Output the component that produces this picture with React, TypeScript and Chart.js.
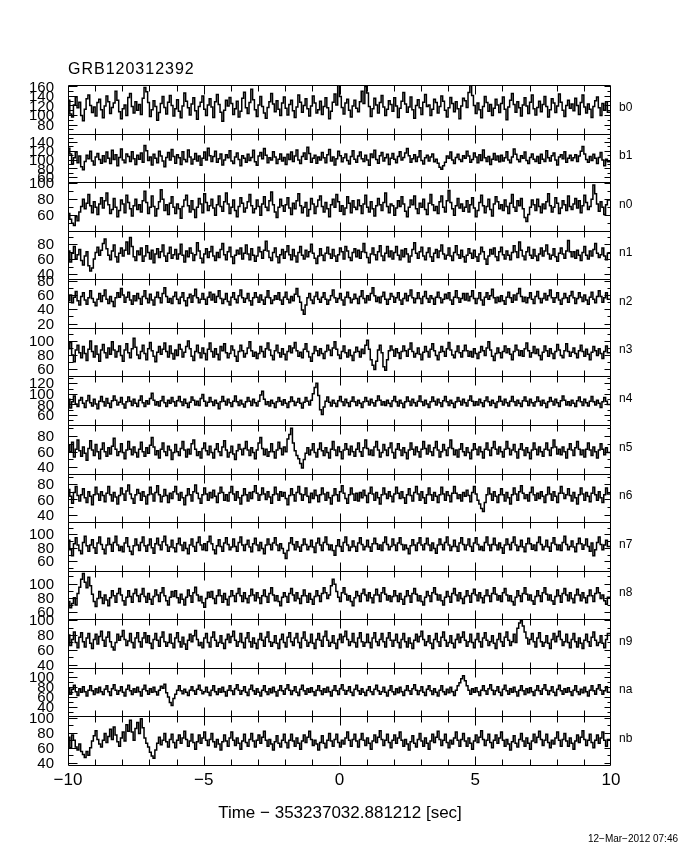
import { useEffect, useRef } from "react";
import { Chart, registerables } from "chart.js";

Chart.register(...registerables);

// ---------- data ----------
const title = "GRB120312392";
const xTitle = "Time \u2212 353237032.881212 [sec]";
const dateStamp = "12\u2212Mar\u22122012 07:46";
const detectors = ["b0", "b1", "n0", "n1", "n2", "n3", "n4", "n5", "n6", "n7", "n8", "n9", "na", "nb"];
const xMin = -10;
const xMax = 10;
const yMin = [61, 49, 40.5, 33, 14, 49, 41, 32, 30, 46, 50, 36, 21, 37];
const yMax = [163, 159, 101.5, 98, 82, 119, 133, 94, 94, 118, 118, 101, 119, 102];
const yStep = [20, 20, 20, 20, 20, 20, 20, 20, 20, 20, 20, 20, 20, 20];

const b0Rates = [
  109,131,102,96,121,138,115,127,99,88,112,134,142,120,105,117,98,126,133,111,
  94,119,140,128,103,116,125,150,131,107,92,113,121,99,137,145,118,104,128,110,
  122,101,135,158,149,126,97,111,130,118,89,105,124,139,116,102,127,141,120,98,
  113,132,108,94,119,146,129,115,100,123,136,109,91,118,127,140,112,99,121,134,
  117,95,128,143,122,106,87,110,131,119,137,124,101,113,129,96,108,135,148,115,
  103,126,154,132,111,97,121,139,118,104,93,116,128,145,123,107,130,112,99,125,
  138,114,100,122,131,109,95,117,142,127,106,120,134,113,98,119,140,125,104,111,
  129,101,118,136,115,92,108,127,144,121,163,139,116,102,125,133,110,96,119,131,
  114,107,128,150,124,160,146,118,97,113,135,121,104,126,141,117,99,112,130,122,
  108,136,119,95,114,129,147,123,106,117,138,111,93,120,132,115,101,127,143,118,
  121,99,112,133,126,104,118,140,129,110,96,115,137,124,107,128,113,92,119,135,
  130,116,147,162,141,120,103,125,111,94,118,139,126,108,122,99,114,133,121,105,
  124,138,112,90,117,131,145,122,106,128,115,98,121,136,119,103,127,142,113,100,
  116,129,107,122,139,118,96,111,134,125,105,119,144,127,110,97,120,131,114,123,
  109,135,120,101,126,142,117,104,123,112,95,118,130,138,115,99,124,110,128,106,
];
const b1Rates = [
  98,126,113,90,104,117,93,108,84,77,96,110,102,119,97,88,106,114,100,92,
  109,95,117,103,91,121,100,111,86,105,124,99,93,113,107,96,118,102,89,110,
  101,115,94,132,120,98,106,88,112,103,93,119,108,97,84,105,116,99,123,107,
  92,111,104,89,118,100,95,122,106,90,101,114,97,108,87,103,117,99,126,109,
  96,107,119,94,102,113,88,99,111,104,120,97,91,106,115,100,86,109,103,94,
  112,98,105,121,95,87,108,116,102,125,110,93,104,99,118,106,91,101,113,97,
  105,89,112,100,117,96,108,122,99,91,107,115,101,128,114,94,103,110,92,106,
  99,116,104,93,111,123,97,106,88,102,119,109,95,104,113,98,90,107,120,101,
  94,108,117,102,96,110,99,87,113,105,121,100,92,109,116,97,104,112,89,103,
  114,101,93,107,118,99,105,115,125,109,94,102,111,96,106,120,98,90,104,110,
  97,106,113,95,101,92,83,78,86,94,108,103,117,99,91,105,112,100,96,109,
  103,119,108,94,100,115,106,93,111,98,122,104,96,107,89,101,114,99,108,95,
  110,97,104,118,99,93,106,124,112,100,95,109,103,117,98,91,105,113,101,96,
  107,92,112,101,96,120,104,97,109,115,99,88,106,111,102,118,94,103,110,98,
  104,111,96,108,119,130,113,100,94,107,98,112,103,91,105,116,99,86,101,95,
];
const n0Rates = [
  76,62,55,50,47,58,53,64,71,80,68,75,86,72,63,77,70,61,74,82,
  69,78,88,73,62,67,81,70,58,66,79,74,63,85,76,68,59,72,80,67,
  73,64,78,90,76,62,70,84,71,59,68,77,92,80,66,73,61,75,83,70,
  62,74,68,56,71,79,85,72,64,78,67,57,70,81,74,63,87,76,66,72,
  80,69,60,73,84,71,65,77,88,74,62,70,79,66,58,71,82,75,64,69,
  77,86,72,63,68,79,71,60,74,83,70,66,78,89,73,64,57,70,80,72,
  65,73,82,69,61,75,68,78,87,72,63,70,76,59,67,81,74,62,71,79,
  84,71,64,76,68,58,73,80,70,86,77,65,72,61,69,83,75,63,78,70,
  67,79,72,62,74,85,70,64,77,68,59,72,81,73,66,76,88,71,63,74,
  72,60,69,78,71,83,74,65,58,70,79,73,84,68,62,75,70,80,67,61,
  75,86,73,66,71,62,77,84,70,64,78,91,76,68,60,72,81,69,74,65,
  70,78,64,73,82,69,58,66,76,85,72,63,71,80,67,59,74,83,77,68,
  73,66,79,71,62,75,86,70,65,78,72,81,68,57,52,61,70,79,73,66,
  80,71,63,74,68,77,87,72,64,70,82,75,62,69,78,73,66,84,71,67,
  74,81,69,78,63,72,85,76,67,71,80,98,87,74,65,77,70,61,73,79,
];
const n1Rates = [
  62,71,56,68,77,60,66,73,58,52,64,70,51,44,48,60,69,76,65,72,
  81,87,74,65,59,71,79,63,56,68,75,64,72,83,67,89,77,63,58,71,
  66,75,57,64,78,69,60,72,55,67,74,62,70,79,64,57,68,76,61,66,
  73,60,67,80,65,56,71,63,75,68,58,66,82,71,61,55,67,74,62,70,
  77,64,58,69,62,73,81,66,59,70,76,63,54,65,72,67,75,60,68,79,
  67,59,74,65,57,64,76,70,61,72,84,71,62,58,69,75,63,55,66,73,
  61,70,78,66,59,73,64,56,69,77,65,60,72,63,70,80,68,61,54,64,
  74,65,58,68,76,67,61,73,64,57,66,75,70,60,77,71,62,58,69,74,
  63,72,61,70,81,69,62,55,67,75,66,59,70,78,64,58,68,77,63,71,
  60,69,77,65,59,72,63,74,67,56,64,73,82,68,61,70,76,64,59,69,
  75,63,57,68,73,62,71,79,67,60,65,75,64,58,69,78,66,61,72,63,
  56,65,74,68,61,72,63,57,67,76,70,60,53,64,73,67,75,63,58,70,
  76,66,60,71,65,59,69,78,70,62,83,72,64,59,70,76,65,61,73,64,
  58,67,75,64,71,79,67,60,65,74,63,57,68,75,67,61,71,85,70,63,
  70,61,72,65,58,69,77,65,60,71,64,73,81,68,62,66,75,64,59,68,
];
const n2Rates = [
  44,52,60,49,57,65,52,46,58,63,53,47,56,66,55,50,45,54,62,51,
  59,67,54,48,58,51,44,56,63,57,69,60,50,57,64,53,47,59,52,62,
  55,47,58,66,55,49,61,53,46,57,64,56,49,62,70,58,50,55,48,58,
  64,54,48,57,63,52,45,56,61,50,59,68,56,49,54,62,54,47,57,64,
  53,61,50,58,66,55,48,54,62,51,46,57,63,54,49,59,67,56,50,55,
  62,52,46,56,63,57,50,60,53,47,57,66,56,48,53,59,54,63,53,47,
  57,64,54,49,58,52,61,69,58,50,39,33,46,56,62,53,48,58,64,54,
  50,57,63,54,47,53,59,67,56,50,55,62,53,46,57,64,56,49,54,61,
  55,48,58,66,55,49,59,53,62,70,59,51,57,49,58,64,54,47,54,62,
  58,50,56,63,53,47,55,62,52,59,67,56,49,55,63,55,48,58,65,55,
  50,59,55,47,57,64,56,49,54,61,55,63,53,47,57,66,56,50,55,62,
  53,62,52,58,66,55,48,55,63,53,46,57,63,54,59,68,56,49,57,51,
  59,52,47,57,64,56,50,60,53,62,69,58,51,57,49,56,63,54,48,58,
  65,55,49,55,62,53,59,67,56,50,56,63,53,47,55,62,56,50,59,65,
  56,48,55,63,57,51,60,53,47,57,64,54,49,58,66,58,50,56,63,54,
];
const n3Rates = [
  74,89,98,80,70,87,94,83,76,92,82,72,88,100,85,77,93,81,71,87,
  95,83,76,90,81,99,87,77,85,93,79,71,87,96,83,76,89,104,91,80,
  75,85,94,82,73,89,98,86,78,70,84,92,81,88,97,85,77,93,82,74,
  87,79,95,88,77,84,92,100,89,78,72,85,94,83,76,90,82,73,88,97,
  85,77,89,81,73,92,86,96,83,76,82,93,87,78,71,85,94,86,77,82,
  90,99,86,78,84,75,82,92,85,77,89,97,87,79,73,86,94,83,77,89,
  81,73,85,93,83,90,98,86,78,84,76,88,96,85,77,71,82,92,86,79,
  89,82,75,85,94,87,79,90,99,88,80,75,85,93,83,77,87,79,72,84,
  91,85,77,88,82,94,101,88,73,65,59,71,87,94,83,63,58,73,86,93,
  87,78,89,83,75,85,93,86,78,88,97,85,77,82,90,81,73,84,92,85,
  77,88,96,86,79,73,84,92,85,78,89,98,87,80,76,85,93,83,77,86,
  94,86,78,85,77,89,82,75,84,92,86,79,90,99,87,78,72,82,90,83,
  76,85,93,83,89,81,73,85,94,87,79,86,78,89,97,86,77,83,92,82,
  88,79,73,84,93,86,78,89,82,75,85,95,87,79,76,86,96,85,78,84,
  90,82,76,86,94,85,78,88,81,73,84,92,86,79,89,82,75,85,93,83,
];
const n4Rates = [
  78,90,73,85,96,81,76,88,93,82,74,87,97,83,77,90,81,72,86,95,
  85,77,91,82,74,87,96,88,79,84,93,81,73,85,94,86,78,90,82,76,
  88,96,83,76,87,81,91,101,88,79,85,77,87,95,83,76,88,82,93,85,
  77,87,95,85,78,90,82,74,84,94,88,79,86,78,91,99,86,77,84,93,
  85,78,88,82,72,85,95,86,79,90,83,76,86,96,85,78,88,81,75,85,
  93,86,78,90,83,77,86,98,105,90,80,85,77,88,82,74,85,93,86,79,
  89,82,74,85,94,86,78,84,91,82,73,84,93,86,79,88,100,112,120,97,
  70,61,75,86,94,84,77,88,82,76,87,95,85,78,90,83,76,86,94,85,
  78,88,82,74,85,93,86,79,90,83,77,87,96,88,79,85,78,88,82,76,
  87,95,85,77,88,82,74,85,94,86,78,90,83,77,86,96,85,78,88,81,
  74,85,94,86,79,90,83,76,87,95,85,78,88,82,74,85,93,86,79,90,
  83,77,88,96,86,78,85,79,90,83,76,87,94,85,78,88,82,74,85,95,
  86,79,90,83,77,86,95,85,78,88,82,76,87,94,86,78,90,83,77,85,
  94,86,78,88,82,74,85,93,86,79,90,83,76,87,96,88,79,85,78,88,
  82,76,87,94,85,78,90,83,77,86,95,85,79,88,82,74,85,93,86,80,
];
const n5Rates = [
  55,68,60,72,53,63,75,61,54,66,58,49,64,74,62,55,69,60,51,63,
  71,60,54,65,57,67,77,63,55,60,70,59,51,62,73,63,56,66,59,53,
  63,72,60,54,65,58,68,78,66,56,61,52,63,71,60,55,67,62,50,59,
  69,60,55,64,73,62,53,63,57,70,75,63,55,60,52,64,71,61,56,67,
  59,52,63,70,60,55,66,74,62,53,59,67,57,50,61,69,63,56,64,73,
  62,55,65,59,51,62,71,78,64,56,63,54,60,70,60,52,62,72,64,56,
  66,60,76,82,90,71,61,55,51,45,39,50,58,65,56,62,70,59,53,63,
  71,61,55,65,59,52,63,73,62,55,66,60,51,62,70,63,56,67,60,54,
  63,71,60,54,65,75,64,56,62,55,66,73,62,53,59,69,62,55,65,71,
  59,52,63,70,62,55,65,59,51,62,71,63,56,66,60,53,63,73,64,57,
  68,60,55,65,73,62,53,60,69,62,55,65,75,64,56,62,53,63,70,60,
  55,65,59,51,62,70,63,56,66,60,52,63,71,62,55,65,73,63,57,66,
  60,53,63,73,64,56,62,69,60,52,63,70,62,55,65,59,51,62,71,63,
  56,66,60,54,63,71,62,55,65,75,66,57,63,56,66,60,52,63,70,62,
  55,65,73,63,56,62,53,63,71,62,55,66,60,52,62,70,63,56,65,59,
];
const n6Rates = [
  61,73,64,55,69,77,65,58,66,74,62,56,70,64,53,66,76,67,59,70,
  65,57,68,77,66,58,69,63,54,65,75,67,59,71,79,67,61,55,66,73,
  68,59,70,64,54,66,76,67,58,69,78,66,57,64,73,65,56,68,61,70,
  77,67,59,69,62,53,65,74,66,58,70,79,68,61,55,66,75,67,59,69,
  62,72,64,56,68,76,69,59,66,58,69,77,67,59,70,62,54,65,74,66,
  58,69,61,70,78,68,59,66,75,67,60,70,63,55,66,76,67,59,70,64,
  69,61,53,65,74,66,58,69,77,67,59,66,75,64,56,68,61,72,65,57,
  66,75,67,59,69,62,54,65,74,66,58,70,78,68,61,55,66,75,67,59,
  68,58,69,62,72,65,56,68,76,67,59,69,62,54,66,75,67,61,70,64,
  57,67,76,68,61,70,62,55,66,74,65,58,69,77,67,59,70,62,55,66,
  75,66,59,69,64,56,66,76,67,59,70,65,57,68,77,68,61,66,58,69,
  64,72,65,57,69,77,67,59,54,48,44,56,66,75,67,59,70,64,56,66,
  74,66,58,69,62,54,66,75,67,59,70,78,68,61,66,58,69,76,66,59,
  68,61,70,64,56,66,76,67,59,70,64,56,68,77,68,61,66,74,65,58,
  69,62,54,66,75,67,59,69,64,57,68,76,66,59,70,62,56,66,75,67,
];
const n7Rates = [
  79,91,77,68,86,95,84,76,71,88,97,83,75,84,92,80,72,87,96,85,
  78,71,84,94,85,75,88,97,84,76,82,74,87,95,82,75,70,83,93,84,
  76,88,96,83,75,84,93,80,72,86,94,84,77,89,97,84,75,81,91,80,
  74,86,94,84,76,88,79,71,84,93,82,75,88,96,84,77,86,76,89,97,
  86,77,71,83,92,82,75,87,95,85,77,81,93,82,75,88,96,84,76,85,
  91,81,74,86,94,84,76,88,79,71,84,93,85,77,87,95,84,76,86,79,
  72,64,76,87,95,85,77,89,81,75,84,93,85,77,82,91,81,73,87,94,
  84,76,88,96,85,77,84,76,69,83,92,82,75,88,96,84,76,81,90,82,
  75,87,95,85,77,82,91,81,75,86,94,86,78,84,76,88,96,85,77,82,
  93,84,76,87,95,85,77,84,79,71,83,92,84,76,87,95,84,77,86,94,
  84,76,87,79,72,84,93,85,77,88,96,84,76,82,91,82,75,87,95,85,
  77,84,93,82,75,87,95,85,77,82,76,88,96,84,76,85,94,84,77,87,
  80,72,84,93,85,77,88,96,84,76,82,91,81,74,86,94,86,78,84,76,
  88,96,85,77,82,91,81,75,87,95,85,77,84,76,88,97,85,77,82,90,
  81,74,86,94,86,78,84,93,82,75,87,68,77,88,96,85,77,84,91,82,
];
const n8Rates = [
  85,75,66,72,80,70,86,95,106,114,102,94,109,97,85,75,68,79,89,80,
  72,84,77,69,80,90,83,74,86,93,84,76,70,81,90,82,74,86,92,83,
  75,85,93,82,74,86,78,71,82,91,84,75,87,94,83,76,70,81,89,82,
  90,80,73,85,78,70,81,91,83,74,87,95,84,76,82,73,67,79,88,81,
  89,79,72,83,91,83,74,86,78,70,82,90,83,75,86,93,83,75,87,79,
  73,83,92,84,76,87,80,72,83,91,82,74,86,94,84,76,83,75,69,81,
  87,82,74,86,93,84,76,87,79,72,83,91,83,74,86,78,71,82,90,83,
  75,86,94,87,79,84,97,106,99,89,81,75,87,94,85,77,83,75,69,80,
  89,83,75,86,92,84,76,87,80,73,84,92,84,75,87,94,85,77,83,75,
  82,90,83,75,86,78,71,82,90,83,74,86,93,85,76,83,75,70,81,89,
  83,75,87,94,85,77,84,76,70,81,89,82,74,86,93,84,76,87,79,72,
  82,90,83,74,86,92,84,76,87,80,73,83,91,83,75,86,94,85,77,83,
  75,87,93,84,76,83,75,70,81,90,83,75,86,94,85,77,84,76,71,82,
  90,83,75,87,94,85,77,84,76,71,82,91,83,74,86,93,84,76,87,79,
  73,84,92,84,76,87,80,73,83,91,83,75,86,94,87,79,84,76,71,81,
];
const n9Rates = [
  68,80,66,74,84,70,63,77,83,71,64,76,82,69,62,74,81,68,78,85,
  73,65,77,84,71,64,60,70,81,73,78,86,74,66,72,82,70,63,76,83,
  71,64,76,83,70,79,69,62,74,82,73,65,77,84,71,65,70,81,69,63,
  76,83,71,64,77,68,61,73,81,71,79,86,74,66,70,63,76,82,70,64,
  77,84,73,65,70,79,69,62,74,81,70,78,85,73,65,71,82,70,63,76,
  83,71,64,76,69,62,74,82,73,65,77,84,71,65,70,79,69,62,74,81,
  70,64,77,83,71,66,76,82,70,63,76,84,73,65,70,81,69,62,74,82,
  73,65,78,85,73,65,70,79,69,62,74,81,70,78,85,74,66,71,82,70,
  64,76,83,71,65,70,81,70,63,76,83,71,66,74,82,71,64,76,83,73,
  65,73,81,70,63,74,82,71,64,76,69,62,73,81,71,78,85,74,66,71,
  79,69,62,74,82,71,65,77,84,73,65,70,79,69,63,74,81,70,77,84,
  73,65,71,81,70,63,74,82,71,64,76,83,73,66,71,79,69,62,74,82,
  71,65,77,84,73,66,71,81,70,89,96,99,92,84,76,68,74,82,71,64,
  76,83,71,65,70,79,69,62,74,82,71,78,85,74,66,71,81,70,63,74,
  82,71,64,76,69,62,73,81,71,65,77,84,73,66,70,79,69,63,74,82,
];
const naRates = [
  69,79,66,76,84,71,63,77,70,81,71,62,74,83,73,65,77,69,80,71,
  65,76,83,71,63,77,85,74,66,73,81,70,62,76,84,73,65,77,70,80,
  71,62,76,84,73,66,77,70,80,71,64,74,82,78,86,69,60,49,43,57,
  66,74,83,73,67,76,70,63,74,81,73,66,76,84,74,67,71,80,70,63,
  74,83,71,65,77,70,80,71,62,74,83,73,65,77,85,74,66,73,81,70,
  63,76,84,73,66,77,70,62,74,83,71,65,77,69,80,71,62,74,83,73,
  66,77,85,74,65,73,81,70,63,76,84,73,66,77,70,79,71,63,74,83,
  73,65,77,70,80,71,62,74,83,73,65,77,85,74,66,73,81,70,63,76,
  84,73,66,77,70,63,74,81,71,65,76,84,73,66,71,80,70,62,74,83,
  71,65,77,69,80,71,63,74,83,73,66,77,85,74,65,73,81,70,63,76,
  83,73,65,77,70,62,74,83,71,65,76,69,80,71,63,74,83,89,97,103,
  93,83,74,66,77,70,79,71,63,74,83,73,66,77,85,74,65,73,81,70,
  63,76,84,73,66,77,70,80,71,62,74,83,73,65,77,69,79,71,63,74,
  83,73,66,77,85,74,65,73,81,70,63,76,84,73,66,77,70,79,71,63,
  74,83,71,65,76,69,80,71,62,74,83,73,66,77,85,74,66,73,81,70,
];
const nbRates = [
  66,74,60,77,70,61,57,65,55,51,47,55,50,60,69,76,83,71,65,61,
  70,79,67,75,85,71,88,77,68,62,73,81,69,91,82,97,81,70,86,94,
  79,99,87,73,66,61,54,49,46,57,66,74,64,70,79,68,61,71,78,67,
  60,70,77,66,73,82,71,62,69,78,67,58,68,77,66,73,81,70,63,71,
  79,68,61,71,65,57,68,77,69,62,73,81,70,63,73,66,58,69,78,67,
  62,71,79,69,61,70,77,66,74,82,70,62,71,65,57,68,76,66,61,70,
  78,67,60,70,78,69,62,73,66,58,69,77,67,74,82,71,63,70,65,57,
  67,76,66,60,70,79,69,62,71,78,67,61,70,65,73,81,70,62,71,78,
  69,61,71,79,70,63,73,66,58,69,77,67,74,83,71,63,70,78,67,60,
  70,77,66,73,81,70,62,71,65,57,68,76,66,61,71,79,69,62,73,66,
  58,69,78,67,74,82,71,63,70,78,67,60,70,65,73,81,70,62,71,79,
  69,62,73,66,58,69,77,67,74,83,71,63,70,78,67,60,70,77,66,73,
  81,70,62,71,65,57,68,76,66,61,71,79,69,62,73,66,58,69,78,67,
  74,82,71,63,70,78,67,60,70,65,73,81,70,62,71,79,69,62,73,66,
  58,69,77,67,74,83,71,63,70,78,67,60,70,77,66,73,81,70,62,71,
];

const rates = [b0Rates, b1Rates, n0Rates, n1Rates, n2Rates, n3Rates, n4Rates,
  n5Rates, n6Rates, n7Rates, n8Rates, n9Rates, naRates, nbRates];

const FONT = '"Liberation Sans", Arial, sans-serif';

function fmt(v: number) {
  return v < 0 ? "\u2212" + Math.abs(v) : String(v);
}

const panelPlugin = {
  id: "panels",
  afterDraw(chart: any) {
    const ctx = chart.ctx as CanvasRenderingContext2D;
    const area = chart.chartArea;
    const xs = chart.scales.x;
    const left = Math.round(area.left) + 0.5;
    const right = Math.round(area.right) - 0.5;
    ctx.save();
    ctx.strokeStyle = "#000";
    ctx.fillStyle = "#000";
    ctx.lineWidth = 1;

    detectors.forEach((name, i) => {
      const s = chart.scales["y" + i];
      const top = Math.round(s.top) + 0.5;
      const bottom = Math.round(s.bottom) + 0.5;
      ctx.beginPath();
      ctx.rect(left, top, right - left, bottom - top);
      xs.ticks.forEach((t: any) => {
        if (t.value <= xMin || t.value >= xMax) return;
        const px = Math.round(xs.getPixelForValue(t.value)) + 0.5;
        const len = t.value % 5 === 0 ? 9 : 6;
        ctx.moveTo(px, top);
        ctx.lineTo(px, top + len);
        ctx.moveTo(px, bottom);
        ctx.lineTo(px, bottom - len);
      });
      const step = yStep[i];
      const half = step / 2;
      for (let v = Math.ceil(s.min / half) * half; v <= s.max; v += half) {
        const py = Math.round(s.getPixelForValue(v)) + 0.5;
        const major = Math.abs(v % step) < 1e-6;
        ctx.moveTo(left, py);
        ctx.lineTo(left + (major ? 9 : 5), py);
        ctx.moveTo(right, py);
        ctx.lineTo(right - (major ? 6 : 3), py);
      }
      ctx.stroke();

      ctx.font = `15px ${FONT}`;
      ctx.textAlign = "right";
      ctx.textBaseline = "middle";
      s.ticks.forEach((t: any) => {
        const py = s.getPixelForValue(t.value);
        ctx.fillText(String(t.value), 54, py + 1);
      });

      ctx.font = `12px ${FONT}`;
      ctx.textAlign = "left";
      ctx.fillText(name, 619, (s.top + s.bottom) / 2 - 2);
    });

    ctx.font = `17px ${FONT}`;
    ctx.textAlign = "center";
    ctx.textBaseline = "middle";
    xs.ticks.forEach((t: any) => {
      if (t.value % 5 !== 0) return;
      ctx.fillText(fmt(t.value), xs.getPixelForValue(t.value), 780);
    });

    ctx.font = `17px ${FONT}`;
    ctx.fillText(xTitle, 340, 813);

    ctx.font = `16px ${FONT}`;
    ctx.textAlign = "left";
    (ctx as any).letterSpacing = "1px";
    ctx.fillText(title, 68, 70);
    (ctx as any).letterSpacing = "0px";

    ctx.font = `10px ${FONT}`;
    ctx.textAlign = "right";
    ctx.fillText(dateStamp, 678, 839);

    ctx.restore();
  },
};

export default function App() {
  const ref = useRef<HTMLCanvasElement | null>(null);

  useEffect(() => {
    if (!ref.current) return;
    const datasets = rates.map((vals, i) => {
      const bw = (xMax - xMin) / vals.length;
      const pts = vals.map((v, k) => ({ x: xMin + k * bw, y: v }));
      pts.push({ x: xMax, y: vals[vals.length - 1] });
      return {
        label: detectors[i],
        data: pts,
        yAxisID: "y" + i,
        borderColor: "#000",
        borderWidth: 1.5,
        pointRadius: 0,
        stepped: "after" as const,
        fill: false,
        tension: 0,
      };
    });

    const scales: any = {
      x: {
        type: "linear",
        min: xMin,
        max: xMax,
        ticks: { display: false, stepSize: 1 },
        grid: { display: false },
        border: { display: false },
        afterFit: (s: any) => {
          s.height = 0;
        },
      },
    };
    for (let i = detectors.length - 1; i >= 0; i--) {
      scales["y" + i] = {
        type: "linear",
        position: "left",
        stack: "panels",
        stackWeight: 1,
        weight: detectors.length - 1 - i,
        min: yMin[i],
        max: yMax[i],
        ticks: { display: false, stepSize: yStep[i], includeBounds: false },
        grid: { display: false },
        border: { display: false },
        afterFit: (s: any) => {
          s.width = 0;
        },
      };
    }

    const chart = new Chart(ref.current, {
      type: "line",
      data: { datasets },
      options: {
        responsive: false,
        animation: false,
        devicePixelRatio: 1,
        events: [],
        layout: { padding: { left: 68, right: 69, top: 85, bottom: 85 } },
        plugins: {
          legend: { display: false },
          tooltip: { enabled: false },
        },
        scales,
      },
      plugins: [panelPlugin],
    } as any);

    return () => chart.destroy();
  }, []);

  return (
    <div style={{ position: "absolute", left: 0, top: 0, width: 680, height: 850, background: "#fff" }}>
      <canvas ref={ref} width={680} height={850} style={{ display: "block", width: 680, height: 850 }} />
    </div>
  );
}
